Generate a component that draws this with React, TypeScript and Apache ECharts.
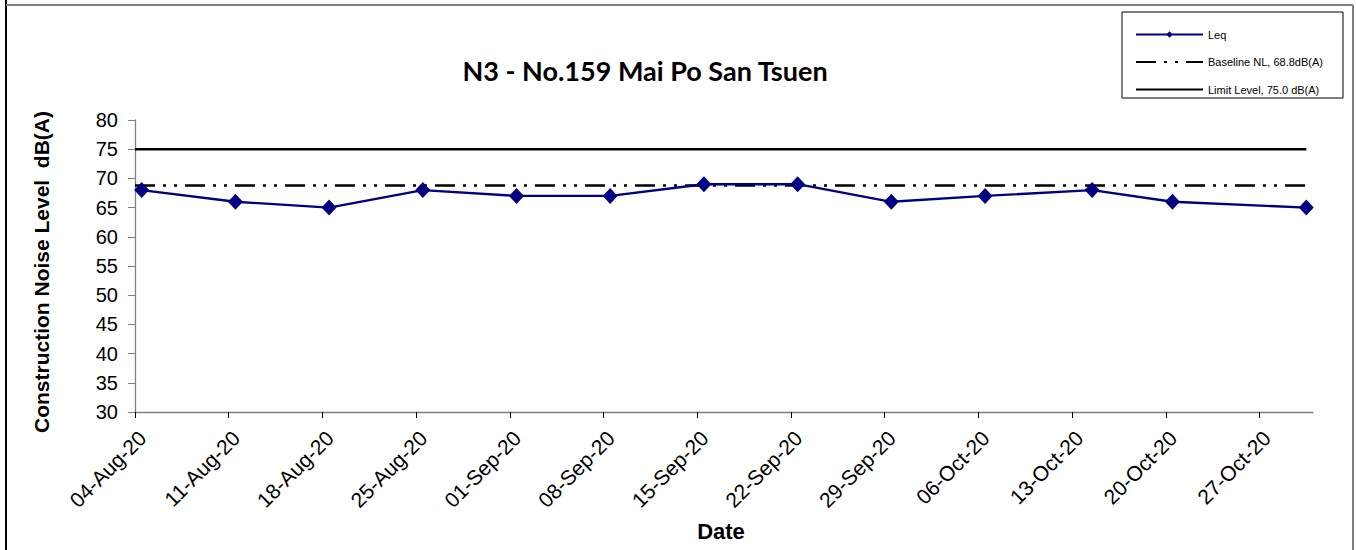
import React, { useEffect, useRef } from "react";
import * as echarts from "echarts";

const dates = [
  "2020-08-04", "2020-08-11", "2020-08-18", "2020-08-25", "2020-09-01",
  "2020-09-08", "2020-09-15", "2020-09-22", "2020-09-29", "2020-10-06",
  "2020-10-14", "2020-10-20", "2020-10-30",
];
const leq = [68, 66, 65, 68, 67, 67, 69, 69, 66, 67, 68, 66, 65];
const baselineLevel = 68.8;
const limitLevel = 75.0;
const tickDates = [
  "2020-08-04", "2020-08-11", "2020-08-18", "2020-08-25", "2020-09-01",
  "2020-09-08", "2020-09-15", "2020-09-22", "2020-09-29", "2020-10-06",
  "2020-10-13", "2020-10-20", "2020-10-27",
];
const axisStart = "2020-08-04";
const axisEnd = "2020-10-31";
const yTicks = [30, 35, 40, 45, 50, 55, 60, 65, 70, 75, 80];

const DAY = 86400000;
const ts = (d: string) => Date.parse(d + "T00:00:00Z");
const MONTHS = ["Jan", "Feb", "Mar", "Apr", "May", "Jun", "Jul", "Aug", "Sep", "Oct", "Nov", "Dec"];
const fmt = (v: number) => {
  const d = new Date(v);
  const dd = String(d.getUTCDate()).padStart(2, "0");
  const yy = String(d.getUTCFullYear()).slice(2);
  return `${dd}-${MONTHS[d.getUTCMonth()]}-${yy}`;
};

export default function App() {
  const ref = useRef<HTMLDivElement>(null);
  useEffect(() => {
    document.body.style.margin = "0";
    const chart = echarts.init(ref.current!, null, { renderer: "svg" });
    const pts = dates.map((d, i) => [ts(d) + DAY / 2, leq[i]]);
    const lastX = ts(dates[dates.length - 1]) + DAY / 2;
    const startX = ts(axisStart);
    chart.setOption({
      animation: false,
      backgroundColor: "#ffffff",
      textStyle: { fontFamily: "Liberation Sans" },
      title: {
        text: "N3 - No.159 Mai Po San Tsuen",
        left: 640,
        textAlign: "center",
        top: 52,
        textStyle: { fontFamily: "Lato", fontWeight: "bold", fontSize: 27, color: "#000" },
      },
      grid: { left: 135, right: 43, top: 120, bottom: 138 },
      legend: {
        orient: "vertical",
        left: 1130,
        top: 24,
        itemWidth: 67,
        itemHeight: 8,
        itemGap: 16.5,
        textStyle: { fontFamily: "Liberation Sans", fontSize: 11, color: "#000" },
        data: [
          { name: "Leq" },
          { name: "Baseline NL, 68.8dB(A)", itemStyle: { opacity: 0 } },
          { name: "Limit Level, 75.0 dB(A)", itemStyle: { opacity: 0 } },
        ],
      },
      xAxis: {
        type: "value",
        min: ts(axisStart),
        max: ts(axisEnd),
        interval: 7 * DAY,
        splitLine: { show: false },
        axisLine: { lineStyle: { color: "#808080", width: 1.3 } },
        axisTick: {
          length: 6,
          lineStyle: { color: "#000" },
          customValues: tickDates.map(ts),
        },
        axisLabel: {
          rotate: 45,
          fontSize: 21,
          color: "#000",
          margin: 15,
          align: "right",
          verticalAlign: "top",
          customValues: tickDates.map(ts),
          formatter: (v: number) => fmt(v),
        },
      },
      yAxis: {
        type: "value",
        min: 30,
        max: 80,
        interval: 5,
        splitLine: { show: false },
        axisLine: { show: true, lineStyle: { color: "#808080", width: 1.3 } },
        axisTick: { show: true, length: 7, lineStyle: { color: "#808080" } },
        axisLabel: {
          fontSize: 20,
          color: "#000",
          margin: 17,
          customValues: yTicks,
        },
      },
      series: [
        {
          name: "Leq",
          type: "line",
          data: pts,
          symbol: "diamond",
          symbolSize: [15, 16],
          lineStyle: { color: "#000080", width: 2.3 },
          itemStyle: { color: "#000080" },
          z: 5,
        },
        {
          name: "Baseline NL, 68.8dB(A)",
          type: "line",
          data: [[startX, baselineLevel], [lastX, baselineLevel]],
          symbol: "none",
          lineStyle: { color: "#000", width: 2.5, type: [20, 8, 3, 8, 3, 8] },
          itemStyle: { color: "#000" },
          z: 3,
        },
        {
          name: "Limit Level, 75.0 dB(A)",
          type: "line",
          data: [[startX, limitLevel], [lastX, limitLevel]],
          symbol: "none",
          lineStyle: { color: "#000", width: 2.5 },
          itemStyle: { color: "#000" },
          z: 3,
        },
      ],
      graphic: [
        { type: "line", shape: { x1: 6, y1: 0, x2: 6, y2: 550 }, style: { stroke: "#000", lineWidth: 2 } },
        { type: "line", shape: { x1: 6, y1: 5, x2: 1353, y2: 5 }, style: { stroke: "#808080", lineWidth: 2 } },
        { type: "line", shape: { x1: 1353, y1: 5, x2: 1353, y2: 550 }, style: { stroke: "#808080", lineWidth: 2 } },
        {
          type: "rect",
          shape: { x: 1122, y: 12, width: 221, height: 86 },
          style: { fill: "none", stroke: "#000", lineWidth: 1 },
          z: 10,
        },
        {
          type: "text",
          x: 41,
          y: 272,
          rotation: Math.PI / 2,
          style: {
            text: "Construction Noise Level  dB(A)",
            fontFamily: "Liberation Sans",
            fontWeight: "bold",
            fontSize: 21,
            fill: "#000",
            textAlign: "center",
            textVerticalAlign: "middle",
          },
        },
        {
          type: "text",
          x: 721,
          y: 531,
          style: {
            text: "Date",
            fontFamily: "Liberation Sans",
            fontWeight: "bold",
            fontSize: 22,
            fill: "#000",
            textAlign: "center",
            textVerticalAlign: "middle",
          },
        },
      ],
    });
    return () => chart.dispose();
  }, []);
  return <div ref={ref} style={{ width: 1356, height: 550 }} />;
}
